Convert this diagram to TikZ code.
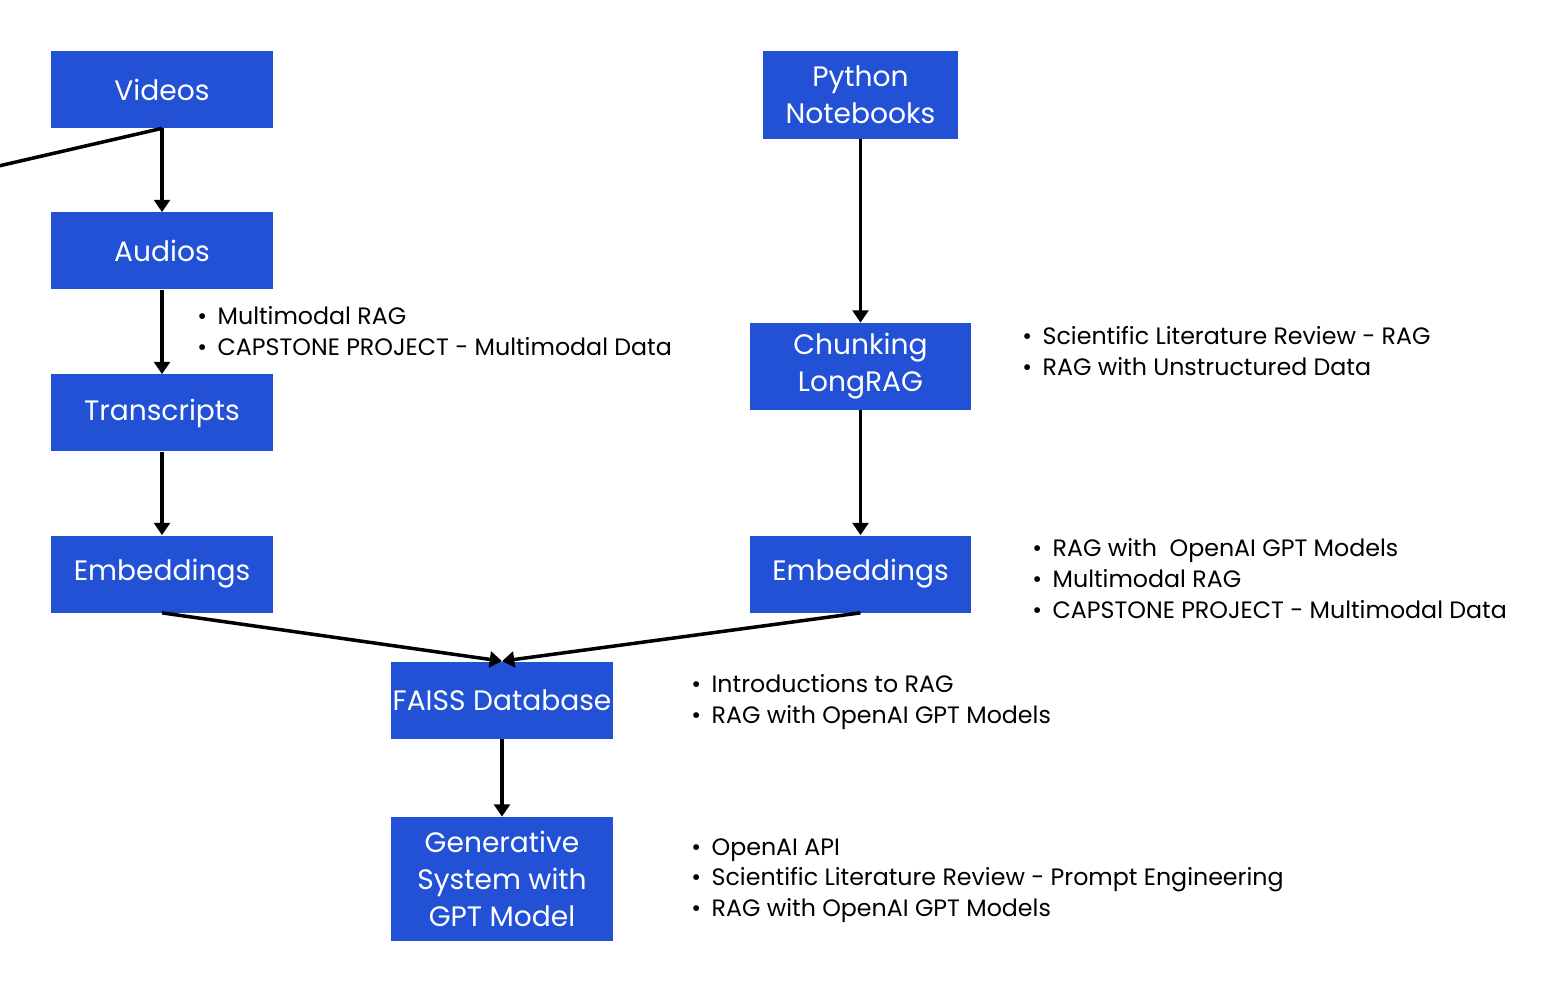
\documentclass[tikz,border=0pt]{standalone}
\usepackage{fontspec}
\setmainfont{Poppins}
\usetikzlibrary{arrows.meta}
\definecolor{boxblue}{HTML}{2251D6}
\newcommand{\itm}{\textbullet\hspace{6pt}}
\begin{document}
\begin{tikzpicture}[
  x=0.02cm, y=-0.02cm,
  box/.style={fill=boxblue, text=white, align=center, inner sep=0pt, font=\fontsize{16}{21}\selectfont},
  notes/.style={anchor=north west, align=left, inner sep=0pt, font=\fontsize{13.5}{17.6}\selectfont},
  arrow/.style={-{Triangle[width=9pt,length=7pt]}, line width=2pt},
  link/.style={line width=2pt}
]
\useasboundingbox (0,0) rectangle (1560,1000);

% left branch
\node[box, minimum width=222*0.02cm, minimum height=77*0.02cm] (videos) at (162,89.5) {Videos};
\node[box, minimum width=222*0.02cm, minimum height=77*0.02cm] (audios) at (162,251) {Audios};
\node[box, minimum width=222*0.02cm, minimum height=77*0.02cm] (transcripts) at (162,413) {Transcripts};
\node[box, minimum width=222*0.02cm, minimum height=77*0.02cm] (embl) at (162,574) {Embeddings};

% right branch
\node[box, minimum width=195*0.02cm, minimum height=88*0.02cm] (notebooks) at (860.5,95) {Python\\Notebooks};
\node[box, minimum width=221*0.02cm, minimum height=87*0.02cm] (chunking) at (860.5,366.5) {Chunking\\LongRAG};
\node[box, minimum width=221*0.02cm, minimum height=77*0.02cm] (embr) at (860.5,574) {Embeddings};

% bottom
\node[box, minimum width=222*0.02cm, minimum height=77*0.02cm] (faiss) at (502,700) {FAISS Database};
\node[box, minimum width=222*0.02cm, minimum height=124*0.02cm] (gen) at (502,879) {Generative\\System with\\GPT Model};

\coordinate (offleft) at (-10,168);

\draw[link] (videos.south) -- (offleft);
\draw[arrow] (videos) -- (audios);
\draw[arrow] (audios) -- (transcripts);
\draw[arrow] (transcripts) -- (embl);
\draw[arrow] (notebooks) -- (chunking);
\draw[arrow] (chunking) -- (embr);
\draw[arrow] (embl.south) -- (faiss.north);
\draw[arrow] (embr.south) -- (faiss.north);
\draw[arrow] (faiss) -- (gen);

% course notes
\node[notes] (n1) at (197,306) {\itm Multimodal RAG\\\itm CAPSTONE PROJECT - Multimodal Data};
\node[notes] (n2) at (1022,326) {\itm Scientific Literature Review - RAG\\\itm RAG with Unstructured Data};
\node[notes] (n3) at (1032,538) {\itm RAG with\ \ OpenAI GPT Models\\\itm Multimodal RAG\\\itm CAPSTONE PROJECT - Multimodal Data};
\node[notes] (n4) at (691,674) {\itm Introductions to RAG\\\itm RAG with OpenAI GPT Models};
\node[notes] (n5) at (691,838) {\itm OpenAI API\\\itm Scientific Literature Review - Prompt Engineering\\\itm RAG with OpenAI GPT Models};
\end{tikzpicture}
\end{document}
